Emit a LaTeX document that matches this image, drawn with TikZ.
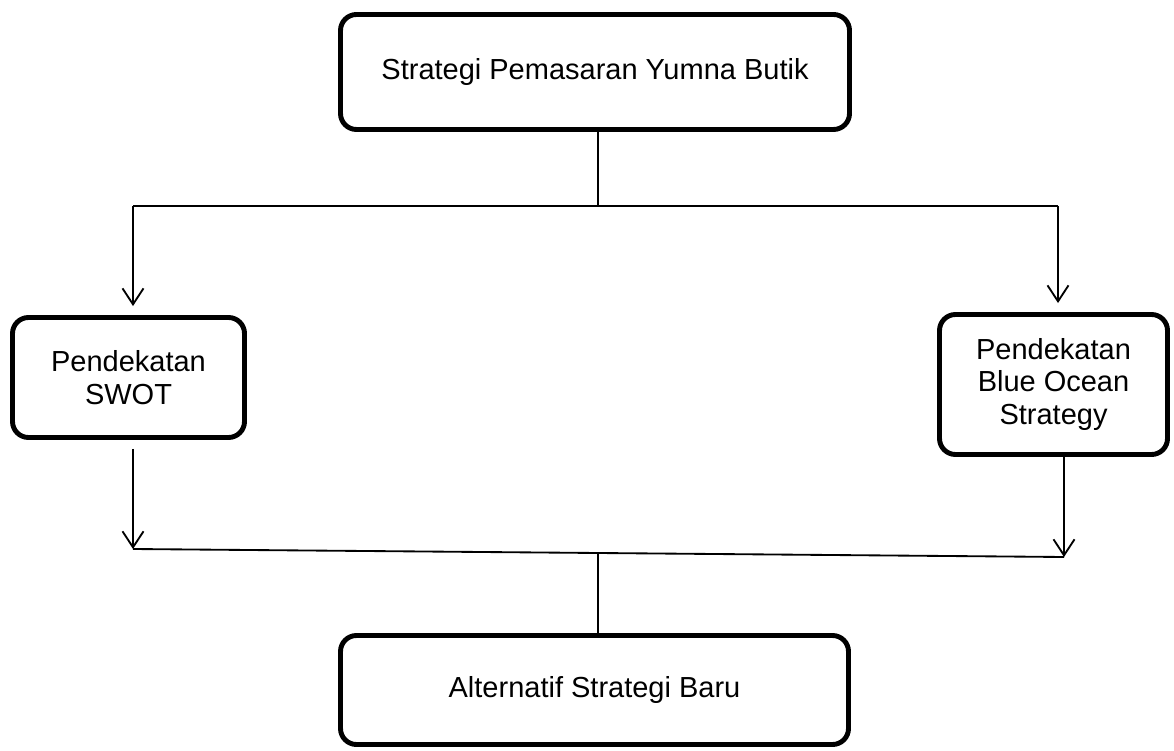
\documentclass[tikz,border=0pt]{standalone}
\usepackage{fontspec}
\setmainfont{Liberation Sans}
\usetikzlibrary{positioning}
\usetikzlibrary{arrows.meta}

\tikzset{
  kotak/.style={draw, line width=2.8pt, rounded corners=0.32cm, align=center,
    font=\fontsize{16.5}{18.7}\selectfont},
  garis/.style={line width=1.05pt},
  panah/.style={garis, -{Straight Barb[length=0.32cm, width=0.42cm, line width=1.05pt]}},
}

\begin{document}
\begin{tikzpicture}
  \useasboundingbox (0,0) rectangle (23.48,-15.02);

  % kotak-kotak
  \node[kotak, minimum width=10.18cm, minimum height=2.3cm] (strategi) at (11.9,-1.44) {Strategi Pemasaran Yumna Butik};
  \node[kotak, minimum width=4.64cm, minimum height=2.4cm] (swot) at (2.57,-7.55) {Pendekatan\\SWOT};
  \node[kotak, minimum width=4.56cm, minimum height=2.8cm] (bos) at (21.07,-7.69) {Pendekatan\\Blue Ocean\\Strategy};
  \node[kotak, minimum width=10.16cm, minimum height=2.18cm] (alternatif) at (11.89,-13.8) {Alternatif Strategi Baru};

  % percabangan ke dua pendekatan
  \coordinate (cabang) at (11.96,-4.12);
  \coordinate (kiri) at (2.66,-4.12);
  \coordinate (kanan) at (21.16,-4.12);
  \draw[garis] (strategi.south -| cabang) -- (cabang);
  \draw[garis] (kiri) -- (kanan);
  \draw[panah, shorten >=0.18cm] (kiri) -- (kiri |- swot.north);
  \draw[panah, shorten >=0.18cm] (kanan) -- (kanan |- bos.north);

  % penggabungan ke alternatif
  \coordinate (gabungkiri) at (2.66,-10.98);
  \coordinate (gabungkanan) at (21.28,-11.14);
  \coordinate (gabung) at (11.96,-11.06);
  \draw[panah, shorten <=0.18cm] (swot.south -| gabungkiri) -- (gabungkiri);
  \draw[panah] (bos.south -| gabungkanan) -- (gabungkanan);
  \draw[garis] (gabungkiri) -- (gabungkanan);
  \draw[garis] (gabung) -- (alternatif.north -| gabung);
\end{tikzpicture}
\end{document}
